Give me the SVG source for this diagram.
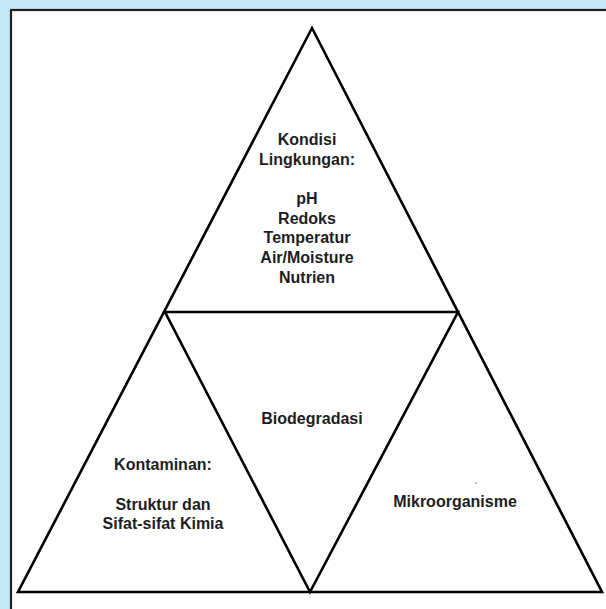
<svg xmlns="http://www.w3.org/2000/svg" width="606" height="609" viewBox="0 0 606 609">
<style>
.ln{stroke:#000;stroke-width:2.6;fill:none;stroke-linejoin:miter;stroke-linecap:round}
.t{font-family:"Liberation Sans",Arial,sans-serif;font-weight:bold;font-size:16px;fill:#1e1e1e;text-anchor:middle}
</style>
<rect x="0" y="0" width="606" height="609" fill="#c6e9f9"/>
<rect x="11" y="10" width="600" height="605" fill="#fff" stroke="#231f20" stroke-width="2.2"/>
<g id="connectors">
<polygon class="ln" points="312,28 18,592 602,592"/>
<polygon class="ln" points="165,312 458,312 310,592"/>
</g>
<g id="kondisi">
<text class="t" x="307" y="145">Kondisi</text>
<text class="t" x="307" y="164.5">Lingkungan:</text>
<text class="t" x="307" y="204">pH</text>
<text class="t" x="307" y="223.5">Redoks</text>
<text class="t" x="307" y="243">Temperatur</text>
<text class="t" x="307" y="262.5">Air/Moisture</text>
<text class="t" x="307" y="282.5">Nutrien</text>
</g>
<g id="biodegradasi">
<text class="t" x="312" y="424">Biodegradasi</text>
</g>
<g id="kontaminan">
<text class="t" x="163" y="470">Kontaminan:</text>
<text class="t" x="163" y="510">Struktur dan</text>
<text class="t" x="163" y="528.5">Sifat-sifat Kimia</text>
</g>
<g id="mikroorganisme">
<text class="t" x="455" y="507">Mikroorganisme</text>
<circle cx="476" cy="483" r="0.8" fill="#777"/>
</g>
</svg>
